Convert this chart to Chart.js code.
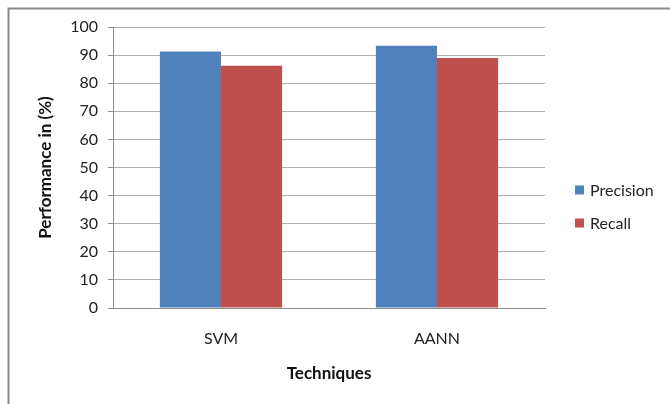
<!DOCTYPE html>
<html>
<head>
<meta charset="utf-8">
<script src="https://cdn.jsdelivr.net/npm/chart.js@4"></script>
<style>
  html, body { margin: 0; padding: 0; background: #fff; }
  #wrap { width: 670px; height: 404px; }
</style>
</head>
<body>
<div id="wrap"><canvas id="myChart" width="670" height="404"></canvas></div>
<script>
var techniques = ["SVM", "AANN"];
var precision = [91.3, 93.3];
var recall = [86.2, 89.0];
var yTicks = [0, 10, 20, 30, 40, 50, 60, 70, 80, 90, 100];

var FONT = "Lato, 'Open Sans', sans-serif";

// grey frame round the chart, and an Excel-style legend at the right
var framePlugin = {
    id: 'frame',
    beforeDraw: function (chart) {
        var c = chart.ctx;
        c.save();
        c.fillStyle = '#fff';
        c.fillRect(0, 0, chart.width, chart.height);
        c.strokeStyle = '#8a8a8a';
        c.lineWidth = 2;
        c.strokeRect(8.5, 8.5, 720, 440);
        c.restore();
    },
    afterDraw: function (chart) {
        var c = chart.ctx;
        c.save();
        c.font = '16px ' + FONT;
        c.textBaseline = 'middle';
        chart.data.datasets.forEach(function (ds, i) {
            var y = 190 + i * 33;
            c.fillStyle = ds.backgroundColor;
            c.fillRect(575, y - 4.5, 9, 9);
            c.fillStyle = '#222';
            c.fillText(ds.label, 590, y + 1);
        });
        c.restore();
    }
};

var ctx = document.getElementById('myChart').getContext('2d');

var myChart = new Chart(ctx, {
    type: 'bar',
    data: {
        labels: techniques,
        datasets: [{
            label: 'Precision',
            data: precision,
            backgroundColor: '#4f81bd'
        }, {
            label: 'Recall',
            data: recall,
            backgroundColor: '#c0504d'
        }]
    },
    options: {
        responsive: false,
        animation: false,
        devicePixelRatio: 1,
        layout: {
            padding: { top: 27, right: 125, bottom: 0, left: 0 }
        },
        datasets: {
            bar: {
                categoryPercentage: 0.566,
                barPercentage: 1.0
            }
        },
        plugins: {
            legend: { display: false },
            tooltip: { enabled: false }
        },
        scales: {
            x: {
                grid: { display: false, drawTicks: false },
                border: { display: true, color: '#8c8c8c', width: 1 },
                ticks: {
                    color: '#222',
                    padding: 21,
                    font: { family: FONT, size: 16 }
                },
                title: {
                    display: true,
                    text: 'Techniques',
                    color: '#111',
                    font: { family: FONT, size: 17, weight: 'bold' },
                    padding: { top: 0, bottom: 20 }
                },
                afterFit: function (scale) { scale.height = 96; }
            },
            y: {
                min: 0,
                max: 100,
                afterBuildTicks: function (scale) {
                    scale.ticks = yTicks.map(function (v) { return { value: v }; });
                },
                grid: {
                    color: '#b0b0b0',
                    tickLength: 5,
                    tickColor: '#8c8c8c'
                },
                border: { display: true, color: '#8c8c8c', width: 1 },
                ticks: {
                    color: '#222',
                    padding: 10,
                    font: { family: FONT, size: 16 }
                },
                title: {
                    display: true,
                    text: 'Performance in (%)',
                    color: '#111',
                    font: { family: FONT, size: 17, weight: 'bold' },
                    padding: { top: 35, bottom: 35 }
                },
                afterFit: function (scale) { scale.width = 113; }
            }
        }
    },
    plugins: [framePlugin]
});
</script>
</body>
</html>
